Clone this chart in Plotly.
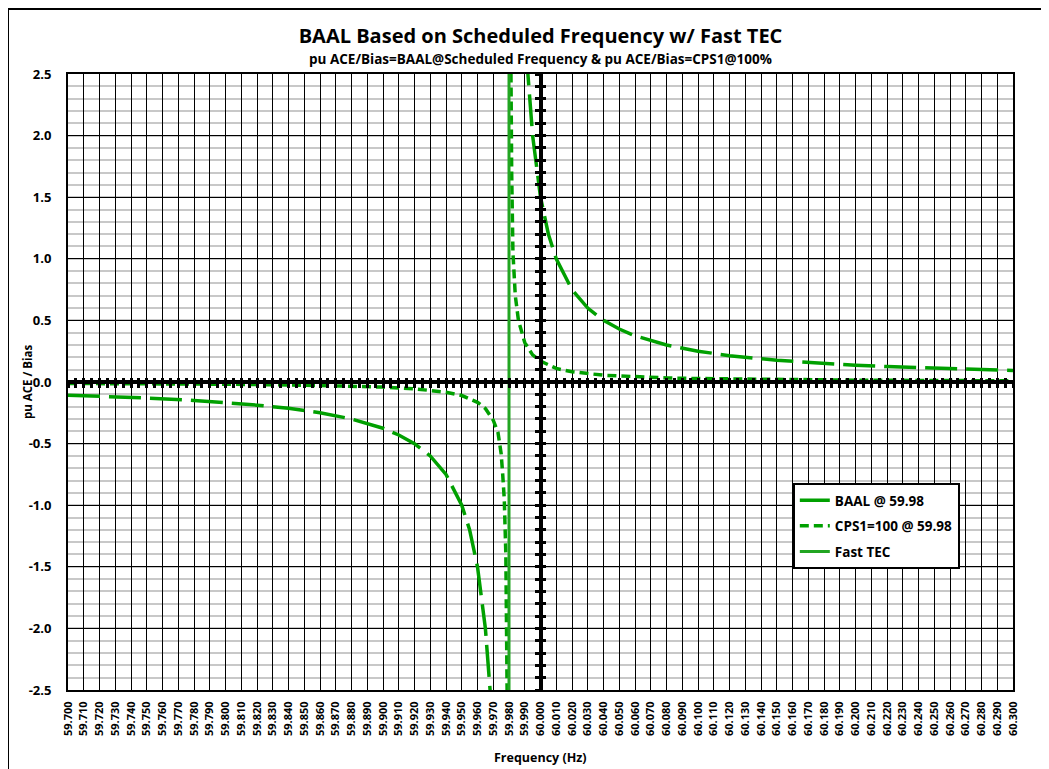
import plotly.graph_objects as go

# ---------------- data ----------------
baal_freq = [59.700, 59.720, 59.750, 59.780, 59.800, 59.820, 59.840, 59.860, 59.880,
             59.900, 59.910, 59.920, 59.930, 59.940, 59.950, 59.955, 59.960, 59.965,
             59.968, 59.970, None,
             59.990, 59.992, 59.995, 60.000, 60.005, 60.010, 60.020, 60.030, 60.040,
             60.050, 60.060, 60.080, 60.100, 60.120, 60.150, 60.180, 60.200, 60.220,
             60.250, 60.280, 60.300]
baal_val = [-0.107, -0.115, -0.130, -0.150, -0.167, -0.188, -0.214, -0.250, -0.300,
            -0.375, -0.430, -0.500, -0.600, -0.750, -1.000, -1.200, -1.500, -2.000,
            -2.500, -3.000, None,
            3.000, 2.500, 2.000, 1.500, 1.200, 1.000, 0.750, 0.600, 0.500,
            0.430, 0.375, 0.300, 0.250, 0.214, 0.176, 0.150, 0.136, 0.125,
            0.111, 0.100, 0.094]

cps1_freq = [59.700, 59.750, 59.800, 59.850, 59.880, 59.900, 59.920, 59.940, 59.950,
             59.960, 59.965, 59.970, 59.973, 59.975, 59.976, 59.977, 59.978, 59.9785,
             59.979, 59.9795, None,
             59.9808, 59.9812, 59.9817, 59.9825, 59.984, 59.986, 59.988, 59.990, 59.995,
             60.000, 60.010, 60.020, 60.040, 60.060, 60.080, 60.100, 60.150, 60.200,
             60.250, 60.300]
cps1_val = [-0.012, -0.014, -0.018, -0.026, -0.034, -0.041, -0.055, -0.083, -0.110,
            -0.165, -0.215, -0.310, -0.410, -0.580, -0.750, -0.950, -1.400, -1.900,
            -2.600, -3.500, None,
            3.300, 2.500, 1.700, 1.050, 0.700, 0.500, 0.400, 0.320, 0.220,
            0.170, 0.110, 0.083, 0.055, 0.041, 0.033, 0.028, 0.019, 0.015,
            0.012, 0.010]

fast_tec_freq = [59.98, 59.98]
fast_tec_val = [-2.5, 2.5]

y_tick_vals = [2.5, 2.0, 1.5, 1.0, 0.5, 0.0, -0.5, -1.0, -1.5, -2.0, -2.5]
y_tick_text = ["2.5", "2.0", "1.5", "1.0", "0.5", "0.0", "-0.5", "-1.0", "-1.5", "-2.0", "-2.5"]

title_text = "BAAL Based on Scheduled Frequency w/ Fast TEC"
subtitle_text = "pu ACE/Bias=BAAL@Scheduled Frequency & pu ACE/Bias=CPS1@100%"

X_RANGE = [59.7, 60.3]
Y_RANGE = [-2.5, 2.5]
GREEN = "#00A000"
FONT = "Open Sans"

fig = go.Figure()
fig.add_trace(go.Scatter(x=baal_freq, y=baal_val, mode="lines", name="BAAL @ 59.98",
                         line=dict(color=GREEN, width=3.5, dash="32px,9px"),
                         legendgroup="a", connectgaps=False))
fig.add_trace(go.Scatter(x=cps1_freq, y=cps1_val, mode="lines", name="CPS1=100 @ 59.98",
                         line=dict(color=GREEN, width=3.5, dash="9px,5px"),
                         legendgroup="b", connectgaps=False))
fig.add_trace(go.Scatter(x=fast_tec_freq, y=fast_tec_val, mode="lines", name="Fast TEC",
                         line=dict(color="#22A522", width=3), legendgroup="c"))

# invisible anchors for the central crossing axes
for xa, ya in [("x2", "y"), ("x3", "y"), ("x", "y2"), ("x", "y3")]:
    fig.add_trace(go.Scatter(x=[60.0], y=[0.0], xaxis=xa, yaxis=ya, mode="markers",
                             marker=dict(opacity=0), hoverinfo="skip", showlegend=False))

tick_font = dict(family=FONT, size=11, color="black", weight="bold")

W, H = 1041, 761          # page adds an 8px body margin
fig.update_layout(
    width=W, height=H,
    margin=dict(l=60, r=36, t=66, b=79),
    paper_bgcolor="white", plot_bgcolor="white",
    showlegend=True,
    legend=dict(x=0.767, y=0.336, xanchor="left", yanchor="top",
                bgcolor="white", bordercolor="black", borderwidth=2,
                font=dict(family=FONT, size=13.5, color="black", weight="bold"),
                tracegroupgap=5, traceorder="grouped"),
    xaxis=dict(range=X_RANGE, dtick=0.01, tick0=59.7, tickformat=".3f",
               tickangle=-90, tickfont=tick_font, showgrid=True,
               gridcolor="black", gridwidth=1.3, zeroline=False,
               showline=True, linecolor="black", linewidth=2, mirror=True,
               ticks="", ticklabelstandoff=5),
    yaxis=dict(range=Y_RANGE, tickvals=y_tick_vals, ticktext=y_tick_text,
               tickfont=dict(family=FONT, size=13, color="black", weight="bold"),
               showgrid=True, gridcolor="black", gridwidth=1.3, zeroline=False,
               showline=True, linecolor="black", linewidth=2, mirror=True,
               ticks="", ticklabelstandoff=12,
               minor=dict(dtick=0.1, tick0=0, showgrid=True, gridcolor="#c8c8c8",
                          gridwidth=1.5, ticks="")),
    xaxis2=dict(range=X_RANGE, overlaying="x", anchor="free", position=0.5,
                showline=True, linecolor="black", linewidth=3.5,
                ticks="outside", ticklen=4, tickwidth=2.5, tickcolor="black",
                tick0=59.7, dtick=0.005, showticklabels=False,
                showgrid=False, zeroline=False),
    xaxis3=dict(range=X_RANGE, overlaying="x", anchor="free", position=0.5,
                showline=False, ticks="inside", ticklen=4, tickwidth=2.5,
                tickcolor="black", tick0=59.7, dtick=0.005, showticklabels=False,
                showgrid=False, zeroline=False, side="bottom"),
    yaxis2=dict(range=Y_RANGE, overlaying="y", anchor="free", position=0.5,
                showline=True, linecolor="black", linewidth=3.5,
                ticks="outside", ticklen=4, tickwidth=2.5, tickcolor="black",
                tick0=0, dtick=0.1, showticklabels=False,
                showgrid=False, zeroline=False),
    yaxis3=dict(range=Y_RANGE, overlaying="y", anchor="free", position=0.5,
                showline=False, ticks="inside", ticklen=4, tickwidth=2.5,
                tickcolor="black", tick0=0, dtick=0.1, showticklabels=False,
                showgrid=False, zeroline=False),
    title=dict(text=title_text, x=0.5, xref="paper", y=1 - (36 - 8) / H, yanchor="middle",
               font=dict(family=FONT, size=20, color="black", weight="bold")),
)

fig.add_annotation(text=subtitle_text, xref="paper", yref="paper", x=0.5,
                   y=(690 - 59) / 616, xanchor="center", yanchor="middle",
                   showarrow=False,
                   font=dict(family=FONT, size=13.5, color="black", weight="bold"))
fig.add_annotation(text="Frequency (Hz)", xref="paper", yref="paper", x=0.5,
                   y=(690 - 757) / 616, xanchor="center", yanchor="middle",
                   showarrow=False,
                   font=dict(family=FONT, size=12.5, color="black", weight="bold"))
fig.add_annotation(text="pu ACE / Bias", xref="paper", yref="paper",
                   x=(27 - 68) / 945, y=0.5, xanchor="center", yanchor="middle",
                   textangle=-90, showarrow=False,
                   font=dict(family=FONT, size=11.5, color="black", weight="bold"))

# chart-area border (left and top edges of the chart area)
fig.add_shape(type="rect", xref="paper", yref="paper",
              x0=(8 - 68) / 945, x1=1.2, y0=-0.3, y1=(690 - 9) / 616,
              line=dict(color="black", width=2), fillcolor="rgba(0,0,0,0)", layer="below")

fig.write_html("out.html")
